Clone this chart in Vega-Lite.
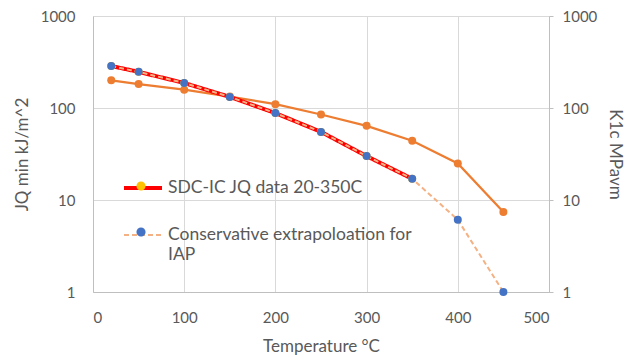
{
  "$schema": "https://vega.github.io/schema/vega-lite/v6.json",
  "width": 456,
  "height": 276,
  "autosize": "none",
  "padding": {"left": 93, "top": 16, "right": 88, "bottom": 68},
  "background": "white",
  "config": {
    "font": "Lato",
    "view": {"stroke": null},
    "axis": {"labelColor": "#595959", "titleColor": "#595959", "labelFontSize": 15, "titleFontSize": 17, "titleFontWeight": "normal", "gridColor": "#D9D9D9", "domainColor": "#BFBFBF", "tickColor": "#BFBFBF"}
  },
  "datasets": {
    "jq": [
      {"T": 20, "series": "SDC-IC JQ data 20-350C", "v": 286},
      {"T": 50, "series": "SDC-IC JQ data 20-350C", "v": 247},
      {"T": 100, "series": "SDC-IC JQ data 20-350C", "v": 187},
      {"T": 150, "series": "SDC-IC JQ data 20-350C", "v": 132},
      {"T": 200, "series": "SDC-IC JQ data 20-350C", "v": 88},
      {"T": 250, "series": "SDC-IC JQ data 20-350C", "v": 55},
      {"T": 300, "series": "SDC-IC JQ data 20-350C", "v": 30},
      {"T": 350, "series": "SDC-IC JQ data 20-350C", "v": 17},
      {"T": 20, "series": "Conservative extrapoloation for IAP", "v": 286},
      {"T": 50, "series": "Conservative extrapoloation for IAP", "v": 247},
      {"T": 100, "series": "Conservative extrapoloation for IAP", "v": 187},
      {"T": 150, "series": "Conservative extrapoloation for IAP", "v": 132},
      {"T": 200, "series": "Conservative extrapoloation for IAP", "v": 88},
      {"T": 250, "series": "Conservative extrapoloation for IAP", "v": 55},
      {"T": 300, "series": "Conservative extrapoloation for IAP", "v": 30},
      {"T": 350, "series": "Conservative extrapoloation for IAP", "v": 17},
      {"T": 400, "series": "Conservative extrapoloation for IAP", "v": 6.1},
      {"T": 450, "series": "Conservative extrapoloation for IAP", "v": 1}
    ],
    "k1c": [
      {"T": 20, "v": 200},
      {"T": 50, "v": 182},
      {"T": 100, "v": 158},
      {"T": 150, "v": 133},
      {"T": 200, "v": 110},
      {"T": 250, "v": 85},
      {"T": 300, "v": 64},
      {"T": 350, "v": 44},
      {"T": 400, "v": 25},
      {"T": 450, "v": 7.4}
    ]
  },
  "layer": [
    {
      "data": {"name": "k1c"},
      "layer": [
        {"mark": {"type": "line", "color": "#ED7D31", "strokeWidth": 2.25}},
        {"mark": {"type": "point", "filled": true, "opacity": 1, "color": "#ED7D31", "size": 64}}
      ],
      "encoding": {
        "x": {"field": "T", "type": "quantitative", "scale": {"domain": [0, 500]}, "axis": {"values": [0, 100, 200, 300, 400, 500], "title": "Temperature °C", "grid": true, "ticks": false, "labelPadding": 18, "titlePadding": 13}},
        "y": {"field": "v", "type": "quantitative", "scale": {"type": "log", "domain": [1, 1000]}, "axis": {"orient": "right", "title": "K1c MPavm", "values": [1, 10, 100, 1000], "format": "d", "grid": false, "ticks": true, "tickSize": 4, "labelPadding": 9, "titlePadding": 9}}
      }
    },
    {
      "data": {"name": "jq"},
      "encoding": {
        "x": {"field": "T", "type": "quantitative", "scale": {"domain": [0, 500]}},
        "y": {"field": "v", "type": "quantitative", "scale": {"type": "log", "domain": [1, 1000]}, "axis": {"orient": "left", "title": "JQ min kJ/m^2", "values": [1, 10, 100, 1000], "format": "d", "grid": true, "ticks": false, "labelPadding": 18, "titlePadding": 9}}
      },
      "layer": [
        {
          "mark": {"type": "line"},
          "encoding": {
            "color": {"field": "series", "type": "nominal", "sort": ["SDC-IC JQ data 20-350C", "Conservative extrapoloation for IAP"], "scale": {"domain": ["SDC-IC JQ data 20-350C", "Conservative extrapoloation for IAP"], "range": ["#FF0000", "#F4B183"]},
              "legend": {"orient": "none", "legendX": 29, "legendY": 151, "title": null, "symbolType": "stroke", "symbolSize": 1444, "symbolStrokeWidth": 3, "labelFontSize": 17.5, "labelColor": "#595959", "rowPadding": 18, "labelOffset": 4, "labelLimit": 400,
                "labelExpr": "datum.label == 'Conservative extrapoloation for IAP' ? ['Conservative extrapoloation for', 'IAP'] : datum.label"}},
            "strokeDash": {"field": "series", "type": "nominal", "scale": {"domain": ["SDC-IC JQ data 20-350C", "Conservative extrapoloation for IAP"], "range": [[1, 0], [5, 3]]}, "legend": null},
            "strokeWidth": {"field": "series", "type": "nominal", "scale": {"domain": ["SDC-IC JQ data 20-350C", "Conservative extrapoloation for IAP"], "range": [4, 2]}, "legend": null}
          }
        },
        {
          "mark": {"type": "point", "filled": true, "opacity": 1, "size": 64, "strokeWidth": 0},
          "encoding": {
            "fill": {"field": "series", "type": "nominal", "scale": {"domain": ["Conservative extrapoloation for IAP", "SDC-IC JQ data 20-350C"], "range": ["#4472C4", "#FFC000"]},
              "legend": {"orient": "none", "legendX": 29, "legendY": 151, "title": null, "values": ["SDC-IC JQ data 20-350C", "Conservative extrapoloation for IAP"], "symbolType": "M0.24,0A0.24,0.24,0,1,1,-0.24,0A0.24,0.24,0,1,1,0.24,0Z", "symbolSize": 1444, "symbolStrokeWidth": 0, "symbolOpacity": 1, "labelFontSize": 17.5, "labelOpacity": 0, "rowPadding": 18, "labelOffset": 4, "labelLimit": 400,
                "labelExpr": "''"}}
          }
        }
      ]
    }
  ],
  "resolve": {"scale": {"y": "independent"}}
}
